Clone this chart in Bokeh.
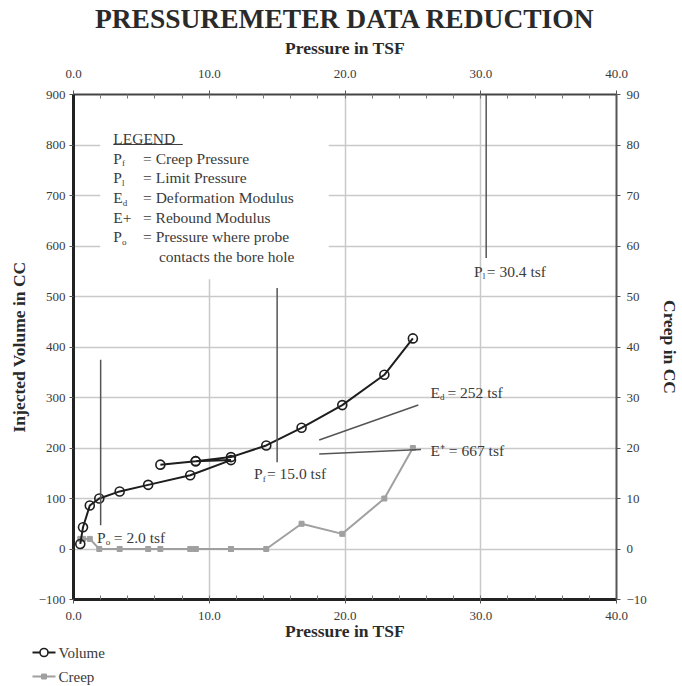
from bokeh.plotting import figure
from bokeh.layouts import column
from bokeh.models import (LinearAxis, Range1d, SingleIntervalTicker,
                          NumeralTickFormatter, ColumnDataSource)
from bokeh.embed import file_html
from bokeh.resources import INLINE
from bokeh.core.properties import value

# ---- test readings -------------------------------------------------------
pressure = [0.5, 0.7, 1.2, 1.9, 3.4, 5.5, 8.6, 11.6, 9.0, 6.4, 9.0, 11.6,
            14.2, 16.8, 19.8, 22.9, 25.0]            # tsf
volume = [10, 43, 86, 100, 114, 127, 146, 176, 174, 167, 174, 182,
          205, 240, 285, 345, 417]                   # injected volume, cc
creep = [2, 2, 2, 0, 0, 0, 0, 0, 0, 0, 0, 0,
         0, 5, 3, 10, 20]                            # creep, cc
series_names = ["Volume", "Creep"]

# ---- reduced parameters ----------------------------------------------------
p_o = 2.0     # contact pressure, tsf
p_f = 15.0    # creep pressure, tsf
p_l = 30.4    # limit pressure, tsf
e_d = 252     # deformation modulus, tsf
e_plus = 667  # rebound modulus, tsf

# slope guides for the two moduli (pressure, volume)
ed_x = [18.1, 25.4]
ed_y = [216, 285]
ep_x = [18.1, 25.6]
ep_y = [188, 197]

x_ticks_interval = 10
vol_ticks_interval = 100
creep_ticks_interval = 10

SERIF = "Liberation Serif"
INK = "#2a2a2a"
SOFT = "#3a3a3a"
VOL_COLOR = "#1e1e1e"
CREEP_COLOR = "#a0a0a0"

p = figure(width=682, height=643,
           x_range=Range1d(0, 40), y_range=Range1d(-100, 900),
           output_backend="svg", toolbar_location=None,
           min_border_left=73, min_border_right=62,
           min_border_top=94, min_border_bottom=44,
           background_fill_color="white", border_fill_color="white")
p.outline_line_color = None
p.frame_align = False
p.extra_y_ranges = {"creep": Range1d(-10, 90)}

# title
p.title.text = "PRESSUREMETER DATA REDUCTION"
p.title.align = "center"
p.title.text_font = SERIF
p.title.text_font_size = "27.5px"
p.title.text_font_style = "bold"
p.title.text_color = INK
p.title.standoff = 1

# axes
xb = p.xaxis[0]
yl = p.yaxis[0]
xt = LinearAxis()
yr = LinearAxis(y_range_name="creep")
p.add_layout(xt, "above")
p.add_layout(yr, "right")

for ax in (xb, xt):
    ax.ticker = SingleIntervalTicker(interval=x_ticks_interval, num_minor_ticks=5)
    ax.formatter = NumeralTickFormatter(format="0.0")
    ax.axis_label = "Pressure in TSF"
    ax.minor_tick_in = 4
    ax.minor_tick_out = 0
    ax.major_tick_in = 0
    ax.major_tick_out = 4
yl.ticker = SingleIntervalTicker(interval=vol_ticks_interval, num_minor_ticks=0)
yr.ticker = SingleIntervalTicker(interval=creep_ticks_interval, num_minor_ticks=0)
yl.axis_label = "Injected Volume in CC"
yr.axis_label = "Creep in CC"
for ax in (yl, yr):
    ax.major_tick_in = 0
    ax.major_tick_out = 4

for ax in (xb, xt, yl, yr):
    ax.major_label_text_font = SERIF
    ax.major_label_text_font_size = "13px"
    ax.major_label_text_color = SOFT
    ax.axis_label_text_font = SERIF
    ax.axis_label_text_font_size = "17.5px"
    ax.axis_label_text_font_style = "bold"
    ax.axis_label_text_color = INK
    ax.major_tick_line_color = "#555555"
    ax.minor_tick_line_color = "#777777" if ax in (xb, xt) else None

xb.axis_line_width = 3
xb.axis_line_color = "#222222"
yl.axis_line_width = 3
yl.axis_line_color = "#222222"
xt.axis_line_width = 2
xt.axis_line_color = "#444444"
yr.axis_line_width = 2
yr.axis_line_color = "#555555"

xb.major_label_standoff = 8
xb.axis_label_standoff = -2
xt.major_label_standoff = 13
xt.axis_label_standoff = 9
yl.major_label_standoff = 4
yl.axis_label_standoff = 7
yr.major_label_standoff = 6
yr.axis_label_standoff = 10

# grid
for g in (p.xgrid[0], p.ygrid[0]):
    g.grid_line_color = "#c9c9c9"
    g.grid_line_width = 1.5

# white panel behind the legend text
p.quad(left=[1.97], right=[18.8], bottom=[534], top=[900],
       fill_color="white", line_color=None)

# series
src = ColumnDataSource(dict(p=pressure, v=volume, c=creep))
p.line("p", "c", source=src, y_range_name="creep",
       line_color=CREEP_COLOR, line_width=2)
p.scatter("p", "c", source=src, y_range_name="creep", marker="square",
          size=5, fill_color=CREEP_COLOR, line_color=CREEP_COLOR)
p.line("p", "v", source=src, line_color=VOL_COLOR, line_width=2)
p.scatter("p", "v", source=src, marker="circle", size=9,
          fill_color=None, line_color=VOL_COLOR, line_width=1.6)

# pressure markers
guide = dict(line_color="#555555", line_width=1.5)
p.segment(x0=[p_o, p_f, p_l], y0=[47, 172, 576],
          x1=[p_o, p_f, p_l], y1=[375, 517, 900], **guide)
p.line(ed_x, ed_y, **guide)
p.line(ep_x, ep_y, **guide)

# text with small subscripts
DX = 40 / 547      # data units per screen pixel, x
DY = 1000 / 505    # data units per screen pixel, y
main = dict(x=[], y=[], t=[])
small = dict(x=[], y=[], t=[])


def put(store, x, y, t):
    store["x"].append(x)
    store["y"].append(y)
    store["t"].append(t)


def subbed(x, y, base, sub, rest, rest_px, sub_px=8.8):
    put(main, x, y, base)
    put(small, x + sub_px * DX, y - 5 * DY, sub)
    put(main, x + rest_px * DX, y, rest)


# callouts on the chart
subbed(1.73, 23, "P", "o", f"= {p_o:.1f} tsf", 17)
subbed(13.3, 149, "P", "f", f"= {p_f:.1f} tsf", 13)
subbed(29.5, 550, "P", "l", f"= {p_l:.1f} tsf", 13)
subbed(26.3, 310, "E", "d", f"= {e_d} tsf", 17, sub_px=9.6)
put(main, 26.3, 195, f"E\u207a = {e_plus} tsf")

# legend panel
col_sym = 2.93
col_eq = 5.12
put(main, col_sym, 813, "LEGEND")
subbed(col_sym, 774, "P", "f", "= Creep Pressure", 30)
subbed(col_sym, 735, "P", "l", "= Limit Pressure", 30)
subbed(col_sym, 696, "E", "d", "= Deformation Modulus", 30, sub_px=9.6)
put(main, col_sym, 656, "E+")
put(main, col_eq, 656, "= Rebound Modulus")
subbed(col_sym, 618, "P", "o", "= Pressure where probe", 30)
put(main, 6.29, 579, "contacts the bore hole")

p.text("x", "y", text="t", source=ColumnDataSource(main),
       text_font=value(SERIF), text_font_size="15.5px", text_color=SOFT,
       text_align="left", text_baseline="middle")
p.text("x", "y", text="t", source=ColumnDataSource(small),
       text_font=value(SERIF), text_font_size="9px", text_color=SOFT,
       text_align="left", text_baseline="middle")
# underline of the legend heading
p.segment(x0=[2.93], y0=[801], x1=[8.05], y1=[801], line_color=SOFT, line_width=1)

# ---- series key under the chart (screen-pixel canvas, y downwards) ----------
key = figure(width=682, height=43, x_range=Range1d(0, 682), y_range=Range1d(43, 0),
             output_backend="svg", toolbar_location=None,
             x_axis_type=None, y_axis_type=None, min_border=0,
             background_fill_color="white", border_fill_color="white")
key.outline_line_color = None
key.frame_align = False
key.xgrid.visible = False
key.ygrid.visible = False
rows = [9, 33]
key.segment(x0=[32, 32], y0=rows, x1=[55, 55], y1=rows,
            line_color=[VOL_COLOR, CREEP_COLOR], line_width=2)
key.scatter([43.5], [rows[0]], marker="circle", size=8, fill_color="white",
            line_color=VOL_COLOR, line_width=1.6)
key.scatter([43.5], [rows[1]], marker="square", size=5, fill_color=CREEP_COLOR,
            line_color=CREEP_COLOR)
key.text([58, 58], rows, text=series_names, text_font=value(SERIF),
         text_font_size="15px", text_color=SOFT,
         text_align="left", text_baseline="middle")

layout = column(p, key, spacing=0)
open("out.html", "w").write(file_html(layout, INLINE))
